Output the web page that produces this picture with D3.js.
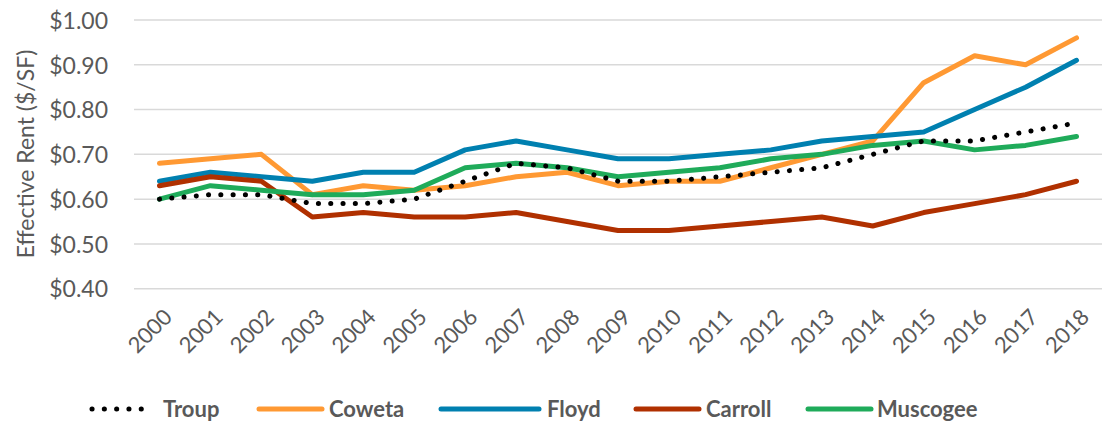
<!DOCTYPE html>
<html>
<head>
<meta charset="utf-8">
<script src="https://cdn.jsdelivr.net/npm/d3@7"></script>
<style>
  html, body { margin: 0; padding: 0; background: #fff; }
  svg { display: block; font-family: Lato, "Open Sans", sans-serif; }
</style>
</head>
<body>
<svg id="chart" width="1105" height="421"></svg>
<script>
// Effective rent per square foot, 2000–2018
const years = ["2000","2001","2002","2003","2004","2005","2006","2007","2008","2009",
               "2010","2011","2012","2013","2014","2015","2016","2017","2018"];
const yTicks = [0.4, 0.5, 0.6, 0.7, 0.8, 0.9, 1.0];

const troup    = [0.60,0.61,0.61,0.59,0.59,0.60,0.64,0.68,0.67,0.64,0.64,0.65,0.66,0.67,0.70,0.73,0.73,0.75,0.77];
const coweta   = [0.68,0.69,0.70,0.61,0.63,0.62,0.63,0.65,0.66,0.63,0.64,0.64,0.67,0.70,0.73,0.86,0.92,0.90,0.96];
const floyd    = [0.64,0.66,0.65,0.64,0.66,0.66,0.71,0.73,0.71,0.69,0.69,0.70,0.71,0.73,0.74,0.75,0.80,0.85,0.91];
const carroll  = [0.63,0.65,0.64,0.56,0.57,0.56,0.56,0.57,0.55,0.53,0.53,0.54,0.55,0.56,0.54,0.57,0.59,0.61,0.64];
const muscogee = [0.60,0.63,0.62,0.61,0.61,0.62,0.67,0.68,0.67,0.65,0.66,0.67,0.69,0.70,0.72,0.73,0.71,0.72,0.74];

const seriesNames = ["Troup","Coweta","Floyd","Carroll","Muscogee"];
const seriesValues = [troup, coweta, floyd, carroll, muscogee];
const seriesColors = ["#000000","#FF9933","#0080B0","#B03000","#1FAB5A"];

const svg = d3.select("#chart");
const textColor = "#595959";

const x = d3.scalePoint().domain(years).range([134, 1102]).padding(0.5);
const y = d3.scaleLinear().domain([0.4, 1.0]).range([288.7, 20]);

// horizontal gridlines
svg.append("g")
  .selectAll("line")
  .data(yTicks)
  .join("line")
  .attr("x1", 134).attr("x2", 1102)
  .attr("y1", d => y(d)).attr("y2", d => y(d))
  .attr("stroke", "#D9D9D9").attr("stroke-width", 1.5);

// y axis labels
const yAxis = d3.axisLeft(y).tickValues(yTicks).tickSize(0).tickPadding(0)
  .tickFormat(d => "$" + d3.format(".2f")(d));
const gy = svg.append("g").attr("transform", "translate(108,0)").call(yAxis);
gy.select(".domain").remove();
gy.selectAll("text")
  .attr("fill", textColor)
  .style("font-family", "Lato, sans-serif")
  .style("font-size", "23px")
  .attr("dy", "0.36em");

// y axis title
svg.append("text")
  .attr("transform", "translate(34,154) rotate(-90)")
  .attr("text-anchor", "middle")
  .attr("fill", textColor)
  .style("font-size", "23px")
  .text("Effective Rent ($/SF)");

// x axis labels, rotated
const xAxis = d3.axisBottom(x).tickSize(0).tickPadding(0);
const gx = svg.append("g").attr("transform", "translate(0,300)").call(xAxis);
gx.select(".domain").remove();
gx.selectAll("text")
  .attr("fill", textColor)
  .style("font-family", "Lato, sans-serif")
  .style("font-size", "22px")
  .attr("text-anchor", "end")
  .attr("dy", "0.35em")
  .attr("transform", "translate(8,13) rotate(-45)");

// series lines
const line = d3.line()
  .x((d, i) => x(years[i]))
  .y(d => y(d));

seriesValues.forEach((vals, k) => {
  if (k === 0) return;
  svg.append("path")
    .datum(vals)
    .attr("d", line)
    .attr("fill", "none")
    .attr("stroke", seriesColors[k])
    .attr("stroke-width", 5)
    .attr("stroke-linecap", "round")
    .attr("stroke-linejoin", "round");
});
// Troup dotted line on top
svg.append("path")
  .datum(troup)
  .attr("d", line)
  .attr("fill", "none")
  .attr("stroke", seriesColors[0])
  .attr("stroke-width", 5)
  .attr("stroke-linecap", "round")
  .attr("stroke-dasharray", "0.1 12.2");

// legend
const legendItems = [
  { lx: 92,  tx: 163, len: 61 },
  { lx: 259, tx: 329, len: 63 },
  { lx: 441, tx: 547, len: 98 },
  { lx: 636, tx: 706, len: 63 },
  { lx: 808, tx: 877, len: 63 }
];
const lg = svg.append("g");
seriesNames.forEach((name, k) => {
  const it = legendItems[k];
  const seg = lg.append("line")
    .attr("x1", it.lx).attr("x2", it.lx + it.len)
    .attr("y1", 409).attr("y2", 409)
    .attr("stroke", seriesColors[k])
    .attr("stroke-width", 5)
    .attr("stroke-linecap", "round");
  if (k === 0) seg.attr("stroke-dasharray", "0.1 12.2");
  lg.append("text")
    .attr("x", it.tx).attr("y", 416.5)
    .attr("fill", textColor)
    .style("font-size", "22px")
    .style("font-weight", "bold")
    .text(name);
});
</script>
</body>
</html>
